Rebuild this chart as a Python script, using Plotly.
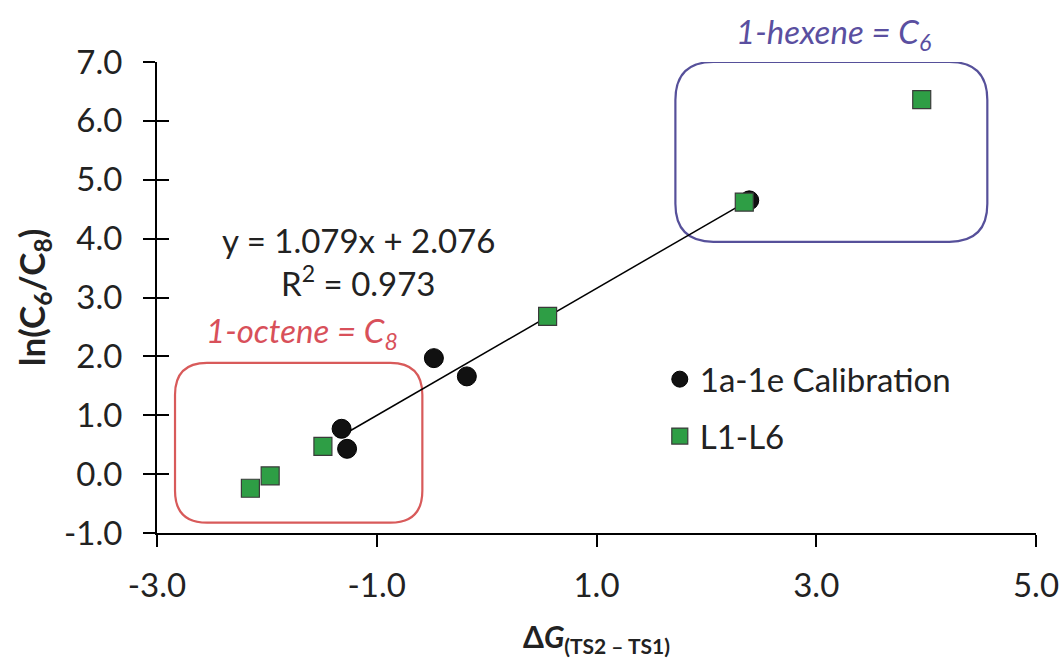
import plotly.graph_objects as go
import numpy as np

# Data
calib_x = [-1.32, -1.27, -0.48, -0.18, 2.39]
calib_y = [0.77, 0.43, 1.97, 1.66, 4.65]
lig_x = [-2.15, -1.97, -1.49, 0.555, 2.345, 3.96]
lig_y = [-0.24, -0.03, 0.47, 2.68, 4.62, 6.36]
slope, intercept = 1.079, 2.076
x_ticks = [-3, -1, 1, 3, 5]
y_ticks = [-1, 0, 1, 2, 3, 4, 5, 6, 7]

FONT = "Lato"
FS = 33
fig = go.Figure()

# trendline
tx = np.array([min(calib_x), max(calib_x)])
fig.add_trace(go.Scatter(x=tx, y=slope * tx + intercept, mode="lines",
                         line=dict(color="black", width=1.5), showlegend=False, hoverinfo="skip"))

fig.add_trace(go.Scatter(x=calib_x, y=calib_y, mode="markers", name="1a-1e Calibration",
                         legendgroup="a",
                         marker=dict(symbol="circle", size=19, color="#111111",
                                     line=dict(color="#000000", width=1))))
fig.add_trace(go.Scatter(x=lig_x, y=lig_y, mode="markers", name="L1-L6",
                         legendgroup="b",
                         marker=dict(symbol="square", size=18, color="#2e9e45",
                                     line=dict(color="#3a3a3a", width=1.2))))


def rounded_rect(x0, x1, y0, y1, r_px, color):
    sx = 110.0
    sy = 58.9
    rx = r_px / sx
    ry = r_px / sy
    p = (f"M {x0+rx},{y1} L {x1-rx},{y1} Q {x1},{y1} {x1},{y1-ry} "
         f"L {x1},{y0+ry} Q {x1},{y0} {x1-rx},{y0} "
         f"L {x0+rx},{y0} Q {x0},{y0} {x0},{y0+ry} "
         f"L {x0},{y1-ry} Q {x0},{y1} {x0+rx},{y1} Z")
    fig.add_shape(type="path", path=p, xref="x", yref="y",
                  line=dict(color=color, width=2.2), layer="below")


rounded_rect(-2.836, -0.585, -0.825, 1.89, 32, "#d85a5a")
rounded_rect(1.718, 4.557, 3.946, 7.0, 38, "#56509a")

fig.add_annotation(x=-1.68, y=2.4, xref="x", yref="y", showarrow=False,
                   text="<i>1-octene = C<sub>8</sub></i>",
                   font=dict(family=FONT, size=FS, color="#d8505a"))
fig.add_annotation(x=3.16, y=1.06, xref="x", yref="paper", showarrow=False,
                   yanchor="middle",
                   text="<i>1-hexene = C<sub>6</sub></i>",
                   font=dict(family=FONT, size=FS, color="#5a4fa0"))
fig.add_annotation(x=-1.17, y=3.97, xref="x", yref="y", showarrow=False,
                   text="y = 1.079x + 2.076",
                   font=dict(family=FONT, size=FS, color="#222222"))
fig.add_annotation(x=-1.17, y=3.28, xref="x", yref="y", showarrow=False,
                   text="R<sup>2</sup> = 0.973",
                   font=dict(family=FONT, size=FS, color="#222222"))

axis_common = dict(showgrid=False, zeroline=False, showline=True, linecolor="black",
                   linewidth=2, ticks="outside", ticklen=12, tickwidth=2, tickcolor="black",
                   automargin=False)

fig.update_layout(
    width=1063, height=664,
    margin=dict(l=157, r=27, t=62, b=131),
    plot_bgcolor="white", paper_bgcolor="white",
    font=dict(family=FONT, size=FS, color="#222222"),
    xaxis=dict(range=[-3, 5], tickvals=x_ticks, ticktext=[f"{v:.1f}" for v in x_ticks],
               ticklabelstandoff=10,
               title=dict(text="<b>Δ<i>G</i><sub>(TS2 – TS1)</sub></b>", standoff=24,
                          font=dict(size=30)),
               **axis_common),
    yaxis=dict(range=[-1, 7], tickvals=y_ticks, ticktext=[f"{v:.1f}" for v in y_ticks],
               ticklabelstandoff=14,
               title=dict(text="<b>ln(C<sub>6</sub>/C<sub>8</sub>)</b>", standoff=8,
                          font=dict(size=35)),
               **axis_common),
    yaxis2=dict(range=[-1, 7], overlaying="y", anchor="x", side="left", tickvals=y_ticks,
                showticklabels=False, ticks="inside", ticklen=12, tickwidth=2,
                tickcolor="black", showgrid=False, zeroline=False, showline=False,
                automargin=False),
    legend=dict(x=0.572, y=0.386, xanchor="left", yanchor="top", bgcolor="rgba(0,0,0,0)",
                tracegroupgap=11, font=dict(family=FONT, size=FS, color="#222222")),
    showlegend=True,
)
# invisible trace to activate the overlay y axis
fig.add_trace(go.Scatter(x=[0], y=[0], yaxis="y2", mode="markers",
                         marker=dict(opacity=0), showlegend=False, hoverinfo="skip"))

fig.write_html("out.html")
